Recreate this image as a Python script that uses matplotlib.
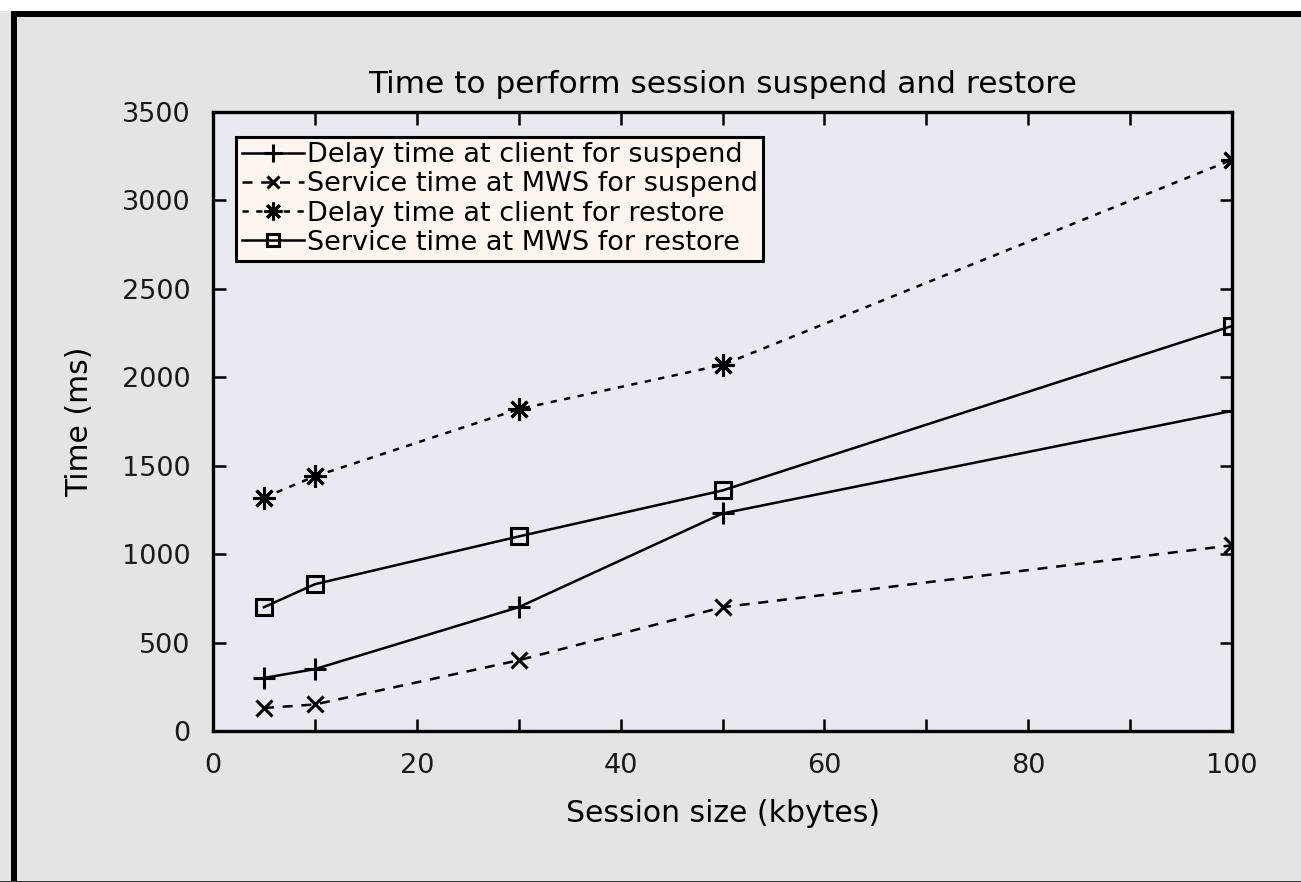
import matplotlib.pyplot as plt
from matplotlib.patches import Rectangle

# session sizes (kbytes)
sizes = [5, 10, 30, 50, 100]

delay_suspend = [300, 350, 700, 1230, 1810]
service_suspend = [130, 150, 400, 700, 1050]
delay_restore = [1320, 1440, 1820, 2070, 3230]
service_restore = [700, 830, 1100, 1360, 2290]

labels = [
    "Delay time at client for suspend",
    "Service time at MWS for suspend",
    "Delay time at client for restore",
    "Service time at MWS for restore",
]

fig = plt.figure(figsize=(13.01, 8.82), dpi=100)
fig.patch.set_facecolor("#e4e4e4")

# white strip at top and the black frame of the scanned figure
fig.add_artist(Rectangle((0, 1 - 11 / 882), 1, 11 / 882, transform=fig.transFigure,
                         facecolor="white", edgecolor="none"))
fig.add_artist(Rectangle((11 / 1301, 1 - 17 / 882), 1, 6 / 882, transform=fig.transFigure,
                         facecolor="black", edgecolor="none"))
fig.add_artist(Rectangle((11 / 1301, 0), 6 / 1301, 1 - 11 / 882, transform=fig.transFigure,
                         facecolor="black", edgecolor="none"))
fig.add_artist(Rectangle((0, 0), 1, 1.5 / 882, transform=fig.transFigure,
                         facecolor="#333333", edgecolor="none"))

ax = fig.add_axes([213 / 1301, 151 / 882, 1019 / 1301, 619 / 882])
ax.set_facecolor("#e9e9f2")

kw = dict(color="black", linewidth=1.8, markersize=16, markeredgewidth=2.2)
ax.plot(sizes, delay_suspend, linestyle="-", marker="+", label=labels[0], **kw)
ax.plot(sizes, service_suspend, linestyle=(0, (4, 3.5)), marker="x", label=labels[1],
        **{**kw, "markersize": 11})
ax.plot(sizes, delay_restore, linestyle=(0, (2.5, 3)), marker=(8, 2, 0), label=labels[2], **kw)
ax.plot(sizes, service_restore, linestyle="-", marker="s", markerfacecolor="none",
        label=labels[3], **{**kw, "markersize": 11})

ax.set_xlim(0, 100)
ax.set_ylim(0, 3500)
ax.set_xticks(range(0, 101, 20))
ax.set_xticks(range(0, 101, 10), minor=True)
ax.set_yticks(range(0, 3501, 500))
ax.tick_params(which="both", direction="in", top=True, right=True, width=1.8,
               labelsize=19.5, pad=16, labelcolor="#1a1a1a")
ax.tick_params(which="major", length=9)
ax.tick_params(which="minor", length=9)
for s in ax.spines.values():
    s.set_linewidth(2.4)

ax.set_title("Time to perform session suspend and restore", fontsize=22.5, pad=14)
ax.set_xlabel("Session size (kbytes)", fontsize=21.5, labelpad=14)
ax.set_ylabel("Time (ms)", fontsize=21.5, labelpad=20)

leg = ax.legend(loc="upper left", bbox_to_anchor=(0.023, 0.96), borderaxespad=0,
                fontsize=19.5, handlelength=2.3, handletextpad=0.1, labelspacing=0.12,
                borderpad=0.2, fancybox=False, framealpha=1, markerscale=0.8)
leg.get_frame().set_facecolor("#fdf6ee")
leg.get_frame().set_edgecolor("black")
leg.get_frame().set_linewidth(2.2)

fig.savefig("out.png", dpi=100, facecolor=fig.get_facecolor())
